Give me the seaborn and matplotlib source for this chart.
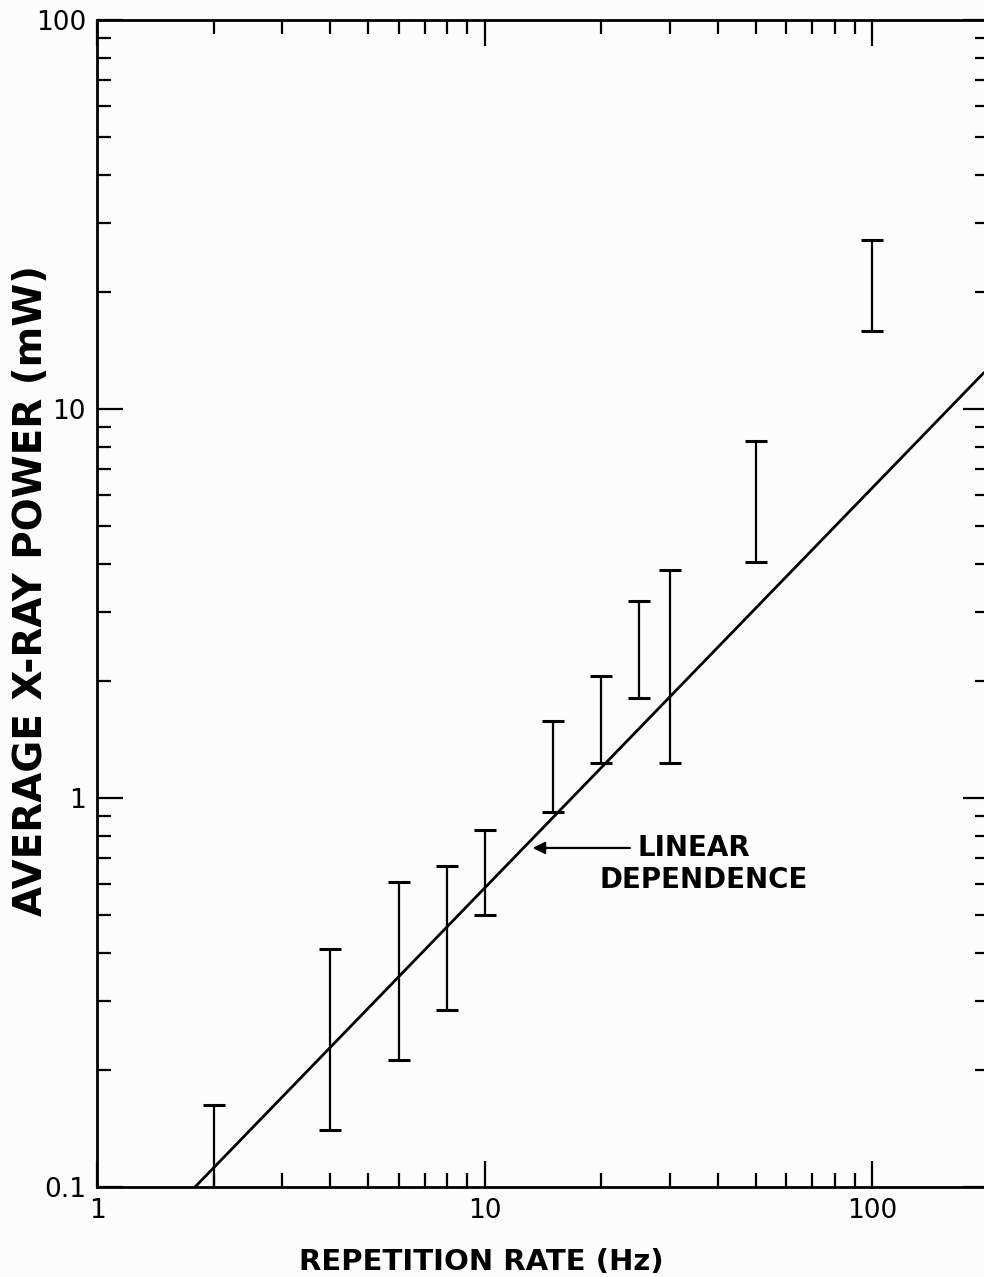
import matplotlib
matplotlib.use("Agg")
import matplotlib.pyplot as plt
import matplotlib.ticker as mticker
import numpy as np
import seaborn as sns

# ---- data ----
rep_rate = [2, 4, 6, 8, 10, 15, 20, 25, 30, 50, 100]            # Hz
power_low = [0.07, 0.140, 0.212, 0.285, 0.500, 0.920, 1.23, 1.81, 1.23, 4.04, 15.9]   # mW
power_high = [0.1625, 0.41, 0.608, 0.668, 0.828, 1.578, 2.06, 3.21, 3.86, 8.27, 27.2]  # mW

fit_x = [1.79, 194.0]     # linear-dependence line endpoints (Hz)
fit_y = [0.1, 12.4]       # mW

x_ticks = [1, 10, 100]
x_ticklabels = ["1", "10", "100"]
y_ticks = [0.1, 1, 10, 100]
y_ticklabels = ["0.1", "1", "10", "100"]

x_label = "REPETITION RATE (Hz)"
y_label = "AVERAGE X-RAY POWER (mW)"
note_label = "LINEAR\nDEPENDENCE"

# ---- styling ----
sns.set_theme(style="ticks")
plt.rcParams["font.family"] = ["DejaVu Sans"]
bg = "#fcfcfc"

fig = plt.figure(figsize=(9.84, 12.77), dpi=100, facecolor=bg)
ax = fig.add_axes([97 / 984, 1 - 1187 / 1277, (989 - 97) / 984, (1187 - 20) / 1277])
ax.set_facecolor(bg)
ax.set_xscale("log")
ax.set_yscale("log")
ax.set_xlim(1, 200)
ax.set_ylim(0.1, 100)

# linear dependence line
sns.lineplot(x=fit_x, y=fit_y, ax=ax, color="black", linewidth=2.0, legend=False)

# error bars
x = np.array(rep_rate, dtype=float)
lo = np.array(power_low)
hi = np.array(power_high)
mid = np.sqrt(lo * hi)
ax.errorbar(x, mid, yerr=[mid - lo, hi - mid], fmt="none", ecolor="black",
            elinewidth=1.6, capsize=8, capthick=2.2, clip_on=True)

# annotation
ax.annotate("", xy=(13.3, 0.744), xytext=(23.7, 0.744),
            arrowprops=dict(arrowstyle="-|>", color="black", lw=1.6,
                            mutation_scale=18, shrinkA=0, shrinkB=0))
ax.text(24.8, 0.745, "LINEAR", ha="left", va="center", fontsize=20,
        fontweight="bold", color="black")
ax.text(19.8, 0.615, "DEPENDENCE", ha="left", va="center", fontsize=20,
        fontweight="bold", color="black")

# ticks
ax.xaxis.set_major_locator(mticker.FixedLocator(x_ticks))
ax.xaxis.set_major_formatter(mticker.FixedFormatter(x_ticklabels))
ax.yaxis.set_major_locator(mticker.FixedLocator(y_ticks))
ax.yaxis.set_major_formatter(mticker.FixedFormatter(y_ticklabels))
ax.xaxis.set_minor_locator(mticker.LogLocator(base=10, subs=np.arange(2, 10)))
ax.yaxis.set_minor_locator(mticker.LogLocator(base=10, subs=np.arange(2, 10)))
ax.xaxis.set_minor_formatter(mticker.NullFormatter())
ax.yaxis.set_minor_formatter(mticker.NullFormatter())
ax.tick_params(which="both", direction="in", top=True, right=True,
               colors="black", width=1.6)
ax.tick_params(which="major", length=19, labelsize=19, pad=8)
ax.tick_params(which="minor", length=10)

for s in ax.spines.values():
    s.set_linewidth(2.0)
    s.set_color("black")

ax.set_xlabel(x_label, fontsize=21, fontweight="bold", color="black")
ax.set_ylabel(y_label, fontsize=28, fontweight="bold", color="black")
ax.xaxis.set_label_coords(0.4305, -0.052)
ax.yaxis.set_label_coords(-0.053, 0.511)

fig.savefig("out.png", dpi=100, facecolor=bg)
